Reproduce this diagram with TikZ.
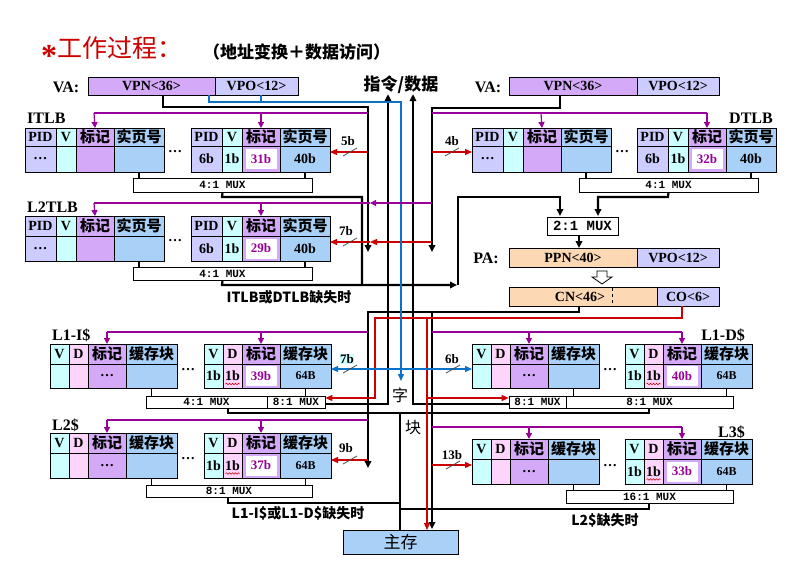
\documentclass[tikz,border=0pt]{standalone}
\usepackage{fontspec}
\setmainfont{Liberation Serif}
\newfontfamily\cjk{Noto Sans CJK SC}
\newfontfamily\muxf{Liberation Mono}
\usetikzlibrary{arrows.meta,decorations.pathmorphing}
\definecolor{cLav}{HTML}{CCCCFF}
\definecolor{cCyan}{HTML}{CCFFFF}
\definecolor{cPurp}{HTML}{D4AAF8}
\definecolor{cBlue}{HTML}{A9D1F7}
\definecolor{cPink}{HTML}{FCD4FC}
\definecolor{cPeach}{HTML}{FCD8B4}
\definecolor{cRed}{HTML}{CC0000}
\definecolor{cLine}{HTML}{0A72C8}
\definecolor{cMag}{HTML}{990099}
\newcommand\fs[1]{\fontsize{#1}{#1}\selectfont}
\newcommand\hz[1]{{\cjk\fs{15}#1}}
\newcommand\cellx[7]{\node[cell,fill=#6,minimum width={((#4)-(#2))*1pt},minimum height={((#5)-(#3))*1pt}] (#1) at ({((#2)+(#4))/2},{((#3)+(#5))/2}) {#7};}
\newcommand\muxx[6]{\node[muxbox,minimum width={((#4)-(#2))*1pt},minimum height={((#5)-(#3))*1pt}] (#1) at ({((#2)+(#4))/2},{((#3)+(#5))/2}) {#6};}
\newcommand\tlbtab[9]{%
 \cellx{#1-h1}{#2}{#3}{#2+31}{#4}{cLav}{PID}
 \cellx{#1-h2}{#2+31}{#3}{#2+51}{#4}{cCyan}{V}
 \cellx{#1-h3}{#2+51}{#3}{#2+89}{#4}{cPurp}{\hz{标记}}
 \cellx{#1-h4}{#2+89}{#3}{#2+139}{#4}{cBlue}{\hz{实页号}}
 \cellx{#1-b1}{#2}{#4}{#2+31}{#5}{cLav}{#6}
 \cellx{#1-b2}{#2+31}{#4}{#2+51}{#5}{cCyan}{#7}
 \cellx{#1-b3}{#2+51}{#4}{#2+89}{#5}{cPurp}{#8}
 \cellx{#1-b4}{#2+89}{#4}{#2+139}{#5}{cBlue}{#9}}
\newcommand\cachetab[9]{%
 \cellx{#1-h1}{#2}{#3}{#2+19}{#4}{cCyan}{V}
 \cellx{#1-h2}{#2+19}{#3}{#2+38}{#4}{cPink}{D}
 \cellx{#1-h3}{#2+38}{#3}{#2+76}{#4}{cPurp}{\hz{标记}}
 \cellx{#1-h4}{#2+76}{#3}{#2+127}{#4}{cBlue}{\hz{缓存块}}
 \cellx{#1-b1}{#2}{#4}{#2+19}{#5}{cCyan}{#6}
 \cellx{#1-b2}{#2+19}{#4}{#2+38}{#5}{cPink}{#7}
 \cellx{#1-b3}{#2+38}{#4}{#2+76}{#5}{cPurp}{#8}
 \cellx{#1-b4}{#2+76}{#4}{#2+127}{#5}{cBlue}{#9}}
\begin{document}
\begin{tikzpicture}[x=1pt,y=-1pt,
  cell/.style={draw=black,line width=0.7pt,inner sep=0pt,outer sep=0pt,rectangle,font=\bfseries\fs{14}},
  tagv/.style={fill=white,text=cMag,minimum width=31pt,minimum height=20pt,inner sep=0pt,font=\bfseries\fs{13}},
  muxbox/.style={draw=black,fill=white,line width=0.7pt,inner sep=0pt,font=\muxf\bfseries\fs{11}},
  lbl/.style={font=\bfseries\fs{16},inner sep=0pt},
  bits/.style={font=\bfseries\fs{13},inner sep=0.5pt},
  dots/.style={font=\bfseries\fs{14},inner sep=0pt},
  blk/.style={line width=2.2pt,black},
  blka/.style={blk,-{Triangle[length=7pt,width=6.5pt]}},
  conn/.style={line width=1.5pt,black},
  red/.style={line width=1.2pt,cRed},
  reda/.style={red,-{Triangle[length=7pt,width=6pt]}},
  blu/.style={line width=1.2pt,cLine},
  blua/.style={blu,-{Triangle[length=7pt,width=6pt]}},
  pur/.style={line width=1.2pt,cMag},
  pura/.style={pur,-{Triangle[length=6pt,width=6pt]}},
  slash/.style={line width=0.8pt,black!70},
  wavy/.style={cRed,line width=0.5pt,decorate,decoration={snake,amplitude=0.8pt,segment length=3pt}}]
\useasboundingbox[fill=white] (0,0) rectangle (788,562);

% title
\node[anchor=west,inner sep=0pt,text=cRed,font=\cjk\fs{25}] (title) at (41,52) {\raisebox{-9pt}{\fontspec{Liberation Serif}\bfseries\fs{32}*}工作过程：};
\node[anchor=west,inner sep=0pt,font=\cjk\bfseries\fs{17}] (subtitle) at (203,52) {（地址变换＋数据访问）};

% VA left / right
\node[lbl] (valL) at (66,87) {VA:};
\cellx{vpnL}{88}{77}{215}{95}{cPurp}{\fs{14}VPN<36>}
\cellx{vpoL}{215}{77}{298}{95}{cLav}{\fs{14}VPO<12>}
\node[lbl] (valR) at (488,87) {VA:};
\cellx{vpnR}{509}{77}{637}{95}{cPurp}{\fs{14}VPN<36>}
\cellx{vpoR}{637}{77}{719}{95}{cLav}{\fs{14}VPO<12>}
\node[font=\cjk\bfseries\fs{17},inner sep=0pt] (insdata) at (401,85) {指令/数据};

% TLBs
\node[lbl,anchor=west] (itlbl) at (27,118) {ITLB};
\tlbtab{itL}{25}{128}{146}{172}{…}{}{}{}
\tlbtab{itR}{191}{128}{146}{172}{6b}{1b}{}{40b}
\node[tagv] (itR-tv) at (itR-b3) {31b};
\node[dots] (itdots) at (175,152) {…};
\muxx{itmux}{133}{178}{312}{192}{4:1 MUX}

\node[lbl,anchor=east] (dtlbl) at (773,118) {DTLB};
\tlbtab{dtL}{472}{128}{146}{172}{…}{}{}{}
\tlbtab{dtR}{637}{128}{146}{172}{6b}{1b}{}{40b}
\node[tagv] (dtR-tv) at (dtR-b3) {32b};
\node[dots] (dtdots) at (622,152) {…};
\muxx{dtmux}{579}{178}{758}{192}{4:1 MUX}

\node[lbl,anchor=west] (l2tlbl) at (27,207) {L2TLB};
\tlbtab{l2tL}{25}{216}{236}{261}{…}{}{}{}
\tlbtab{l2tR}{191}{216}{236}{261}{6b}{1b}{}{40b}
\node[tagv] (l2tR-tv) at (l2tR-b3) {29b};
\node[dots] (l2tdots) at (175,241) {…};
\muxx{l2tmux}{133}{267}{312}{280}{4:1 MUX}
\node[font=\cjk\bfseries\fs{14},inner sep=0pt] (tlbmiss) at (289,297) {ITLB或DTLB缺失时};

% 2:1 MUX, PA, CN/CO
\muxx{mux21}{547}{217}{618}{235}{\fs{14}2:1 MUX}
\node[lbl] (palbl) at (486,258) {PA:};
\cellx{ppn}{509}{248}{637}{267}{cPeach}{\fs{14}PPN<40>}
\cellx{pvpo}{637}{248}{719}{267}{cLav}{\fs{14}VPO<12>}
\draw[fill=white,line width=0.8pt] (597,271) -- (607,271) -- (607,277) -- (612,277) -- (602,284) -- (592,277) -- (597,277) -- cycle;
\cellx{cn}{509}{287}{657}{306}{cPeach}{\fs{14}\hspace*{-6pt}CN<46>}
\cellx{co}{657}{287}{719}{306}{cLav}{\fs{14}CO<6>}
\draw[dashed,line width=0.7pt] (612,288) -- (612,305);

% caches
\node[lbl,anchor=west] (l1ilbl) at (52,335) {L1-I\$};
\cachetab{l1iL}{50}{344}{364}{388}{}{}{…}{}
\cachetab{l1iR}{204}{344}{364}{388}{1b}{1b}{}{\fs{12}64B}
\node[tagv] (l1iR-tv) at (l1iR-b3) {39b};
\node[dots] (l1idots) at (188,370) {…};
\muxx{l1imuxA}{146}{396}{267}{408}{4:1 MUX}
\muxx{l1imuxB}{267}{396}{325}{408}{8:1 MUX}

\node[lbl,anchor=east] (l1dlbl) at (745,335) {L1-D\$};
\cachetab{l1dL}{472}{344}{364}{388}{}{}{…}{}
\cachetab{l1dR}{625}{344}{364}{388}{1b}{1b}{}{\fs{12}64B}
\node[tagv] (l1dR-tv) at (l1dR-b3) {40b};
\node[dots] (l1ddots) at (610,370) {…};
\muxx{l1dmuxA}{509}{396}{566}{408}{8:1 MUX}
\muxx{l1dmuxB}{566}{396}{733}{408}{8:1 MUX}

\node[lbl,anchor=west] (l2lbl) at (52,425) {L2\$};
\cachetab{l2L}{50}{433}{453}{478}{}{}{…}{}
\cachetab{l2R}{204}{433}{453}{478}{1b}{1b}{}{\fs{12}64B}
\node[tagv] (l2R-tv) at (l2R-b3) {37b};
\node[dots] (l2dots) at (188,459) {…};
\muxx{l2mux}{146}{485}{312}{497}{8:1 MUX}
\node[font=\cjk\bfseries\fs{14},inner sep=0pt] (l1miss) at (298,513) {L1-I\$或L1-D\$缺失时};

\node[lbl,anchor=east] (l3lbl) at (745,432) {L3\$};
\cachetab{l3L}{472}{439}{459}{484}{}{}{…}{}
\cachetab{l3R}{625}{439}{459}{484}{1b}{1b}{}{\fs{12}64B}
\node[tagv] (l3R-tv) at (l3R-b3) {33b};
\node[dots] (l3dots) at (610,466) {…};
\muxx{l3mux}{566}{490}{733}{503}{16:1 MUX}
\node[font=\cjk\bfseries\fs{14},inner sep=0pt] (l2miss) at (605,520) {L2\$缺失时};

% wavy underlines under D = 1b
\foreach \n in {l1iR,l1dR,l2R,l3R}{\draw[wavy] ([xshift=-7pt,yshift=-8pt]\n-b2.center) -- ++(14,0);}

% main memory
\cellx{mem}{343}{530}{458}{554}{cBlue}{\cjk\fs{17}\mdseries 主存}

% table -> mux connectors
\foreach \t/\m in {itL/itmux,itR/itmux,dtL/dtmux,dtR/dtmux,l2tL/l2tmux,l2tR/l2tmux,l1iL/l1imuxA,l1iR/l1imuxB,l1dL/l1dmuxA,l1dR/l1dmuxB,l2L/l2mux,l2R/l2mux,l3L/l3mux,l3R/l3mux}
  {\draw[conn] (\t-b4.south) -- (\t-b4.south |- \m.north);}

% bus coordinates
\coordinate (aL) at (163,95);
\coordinate (aR) at (560,95);
\coordinate (bL) at (209,95);
\coordinate (bL2) at (261,95);

% ---- black lines
\draw[blka] (aL) -- (163,107) -- (368,107) -- (368,252);
\draw[blka] (aR) -- (560,108) -- (432,108) -- (432,252);
\draw[blk] (itmux.south) -- (222,197) -- (362,197) -- (362,285);
\draw[blka] (l2tmux.south) -- (222,285) -- (457,285);
\draw[blka] (458,285) -- (458,197) -- (560,197) -- (560,216);
\draw[blka] (dtmux.south) -- (668,197) -- (598,197) -- (598,216);
\draw[blka] (mux21.south -| 579,0) -- (579,248);
\draw[blka] (cn.south -| 579,0) -- (579,312) -- (368,312) -- (368,468);
\draw[blka] (432,312) -- (432,529);
\draw[blka] (l1imuxB.east |- 0,404) -- (388,404) -- (insdata.south -| 388,0);
\draw[blka] (l1dmuxA.west |- 0,404) -- (413,404) -- (insdata.south -| 413,0);
\draw[blk] (228,408) -- (228,413) -- (649,413) -- (649,408);
\draw[blk] (400,413) -- (mem.north -| 400,0);
\draw[blk] (228,497) -- (228,503) -- (401,503);
\draw[blk] (649,503) -- (649,509) -- (401,509);

% ---- red lines
\draw[reda] (368,152) -- (itR-b4.east |- 0,152);
\draw[reda] (432,152) -- (dtL-b1.west |- 0,152);
\draw[reda] (432,242) -- (370,242);
\draw[reda] (370,242) -- (l2tR-b4.east |- 0,242);
\draw[reda] (co.south -| 682,0) -- (682,318) -- (375,318) -- (375,398) -- (l1imuxB.east |- 0,398);
\draw[reda] (427,318) -- (mem.north -| 427,0);
\draw[reda] (427,398) -- (l1dmuxA.west |- 0,398);
\draw[reda] (368,460) -- (l2R-b4.east |- 0,460);
\draw[reda] (432,465) -- (l3L-b1.west |- 0,465);

% ---- blue lines
\draw[blua] (bL) -- (209,102) -- (401,102) -- (401,381);
\draw[blu] (bL2) -- (261,102);
\draw[blua] (401,369) -- (l1iR-b4.east |- 0,369);
\draw[blua] (401,369) -- (l1dL-b1.west |- 0,369);

% ---- purple lines
\draw[pur] (368,113) -- (94,113);
\draw[pura] (94,113) -- (itL-h3.north);
\draw[pura] (261,113) -- (itR-h3.north);
\draw[pur] (432,113) -- (707,113);
\draw[pura] (541,113) -- (dtL-h3.north);
\draw[pura] (707,113) -- (dtR-h3.north);
\draw[pura] (432,203) -- (370,203);
\draw[pur] (370,203) -- (94,203);
\draw[pura] (94,203) -- (l2tL-h3.north);
\draw[pura] (261,203) -- (l2tR-h3.north);
\draw[pur] (368,332) -- (107,332);
\draw[pura] (107,332) -- (l1iL-h3.north);
\draw[pura] (261,332) -- (l1iR-h3.north);
\draw[pur] (432,332) -- (682,332);
\draw[pura] (529,332) -- (l1dL-h3.north);
\draw[pura] (682,332) -- (l1dR-h3.north);
\draw[pur] (368,420) -- (107,420);
\draw[pura] (107,420) -- (l2L-h3.north);
\draw[pura] (261,420) -- (l2R-h3.north);
\draw[pur] (432,427) -- (682,427);
\draw[pura] (529,427) -- (l3L-h3.north);
\draw[pura] (682,427) -- (l3R-h3.north);

% ---- bit-width labels and slashes
\foreach \x/\y/\t/\n in {348/141/5b/w1,452/141/4b/w2,346/231/7b/w3,452/359/6b/w5,346/448/9b/w6,452/455/13b/w7}
  {\node[bits] (\n) at (\x,\y) {\t};}
\node[bits,fill=cCyan] (w4) at (347,359) {7b};
\foreach \x/\y in {350/152,452/152,350/242,350/369,453/369,350/460,453/465}
  {\draw[slash] (\x-7,\y+4) -- (\x+7,\y-4);}

% 字 / 块
\node[font=\cjk\fs{16},inner sep=0pt] (zi) at (400,395) {字};
\node[font=\cjk\fs{16},inner sep=0pt] (kuai) at (413,428) {块};
\end{tikzpicture}
\end{document}
